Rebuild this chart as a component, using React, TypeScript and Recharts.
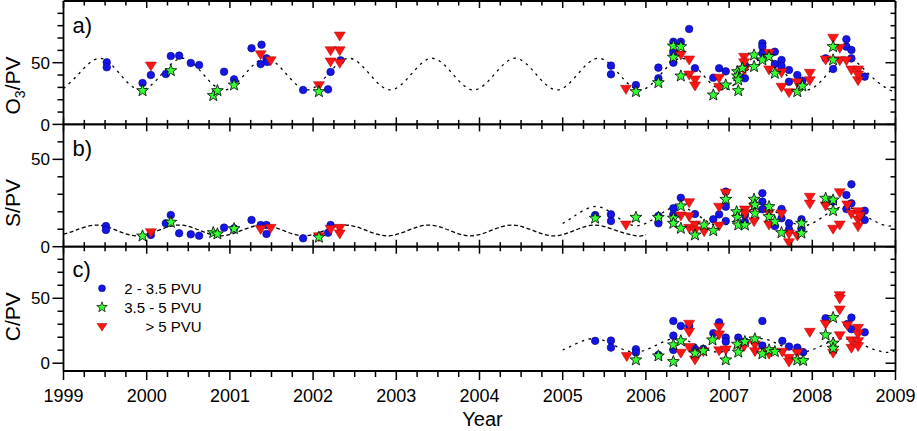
import React from 'react';
import { ComposedChart, Line, Scatter, XAxis, YAxis } from 'recharts';

// page geometry
const W = 917;
const H = 431;
const LEFT = 63.5;
const RIGHT = 895.5;
const AX = 1; // thickness reserved for each axis box

const years = [1999, 2000, 2001, 2002, 2003, 2004, 2005, 2006, 2007, 2008, 2009];
const quarterTicks = years.slice(0, -1).flatMap((y) => [y, y + 0.25, y + 0.5, y + 0.75]).concat([2009]);

// panel a) O3/PV
const o3Circles: [number, number][] = [
  [1999.52, 50.3], [1999.52, 46.3], [1999.95, 33.5], [2000.05, 40], [2000.23, 40.8], [2000.29, 55.4], [2000.39, 55.7],
  [2000.53, 49.8], [2000.63, 48.1], [2000.93, 42.7], [2001.05, 36.5], [2001.26, 61.7], [2001.38, 64.6], [2001.37, 48.9],
  [2001.44, 53.5], [2001.45, 50.6], [2001.88, 27.9], [2002.18, 28.4], [2002.21, 42.5], [2002.33, 51.9],
  [2005.58, 47.6], [2005.58, 40.6], [2005.88, 31.9], [2006.15, 46], [2006.15, 37.4], [2006.33, 67], [2006.33, 58.1],
  [2006.33, 50], [2006.42, 67], [2006.52, 77.3], [2006.59, 45.5], [2006.81, 37.8], [2006.96, 43], [2006.88, 45.5],
  [2007.19, 37.4], [2007.19, 48.1], [2007.4, 65.7], [2007.4, 63], [2007.4, 57.6], [2007.55, 58.9], [2007.55, 48.9],
  [2007.63, 52.2], [2007.63, 47.3], [2007.72, 44.1], [2007.72, 34.6], [2007.82, 40], [2007.88, 35.4], [2008.16, 53.5],
  [2008.25, 44.9], [2008.41, 69], [2008.41, 63], [2008.47, 60.3], [2008.47, 53.5], [2008.63, 38.7],
];
const o3Stars: [number, number][] = [
  [1999.95, 27.3], [2000.29, 43.5], [2000.8, 23.3], [2000.85, 27.3], [2001.05, 31.9], [2002.07, 26.5],
  [2005.88, 26.5], [2006.15, 33.8], [2006.33, 63.5], [2006.33, 54.4], [2006.42, 63], [2006.42, 39.2], [2006.81, 23.8],
  [2006.96, 31.9], [2007.1, 42.7], [2007.1, 39.2], [2007.11, 36], [2007.11, 27.3], [2007.16, 45.5], [2007.3, 46.8],
  [2007.3, 56.2], [2007.4, 52.2], [2007.48, 54.9], [2007.55, 41.4], [2007.82, 26.5], [2007.88, 31.1], [2008.25, 63],
  [2008.25, 52.2],
];
const o3Tris: [number, number][] = [
  [2000.05, 47.3], [2001.37, 56.5], [2001.49, 51.6], [2002.07, 31.4], [2002.21, 59.7], [2002.21, 50.6], [2002.32, 71.6],
  [2002.32, 59.7], [2002.32, 49.5], [2005.76, 28.4], [2006.42, 56.2], [2006.52, 52.2], [2006.52, 40], [2006.59, 36],
  [2006.59, 31.1], [2006.88, 37.4], [2006.88, 30.1], [2007.18, 54.4], [2007.18, 50], [2007.18, 44.1], [2007.48, 57.6],
  [2007.48, 44.1], [2007.63, 41.9], [2007.63, 30.1], [2007.72, 25.7], [2007.82, 33.8], [2007.97, 41.4], [2007.97, 35.4],
  [2008.16, 52.2], [2008.25, 69.8], [2008.33, 61.7], [2008.33, 51.6], [2008.41, 51.6], [2008.47, 44.1], [2008.55, 44.1],
  [2008.55, 35.4], [2008.55, 40],
];
const o3Fit: [number, number][] = [
  [1999, 29.1], [1999.18, 40.7], [1999.43, 53.6], [1999.68, 40.7], [1999.93, 27.9],
  [2000.18, 40.7], [2000.43, 53.6], [2000.68, 40.7], [2000.93, 27.9],
  [2001.18, 40.7], [2001.43, 53.6], [2001.68, 40.7], [2001.93, 27.9],
  [2002.18, 40.7], [2002.43, 53.6], [2002.68, 40.7], [2002.93, 27.9],
  [2003.18, 40.7], [2003.43, 53.6], [2003.68, 40.7], [2003.93, 27.9],
  [2004.18, 40.7], [2004.43, 53.6], [2004.68, 40.7], [2004.93, 27.9],
  [2005.18, 40.7], [2005.43, 53.6], [2005.68, 40.7], [2005.93, 27.9],
  [2006.18, 40.7], [2006.43, 53.6], [2006.68, 40.7], [2006.93, 27.9],
  [2007.18, 40.7], [2007.43, 53.6], [2007.68, 40.7], [2007.93, 27.9],
  [2008.18, 40.7], [2008.43, 53.6], [2008.68, 40.7], [2008.93, 27.9],
  [2009, 29.1],
];

// panel b) S/PV
const sCircles: [number, number][] = [
  [1999.51, 11.8], [1999.51, 9.6], [2000.05, 6.7], [2000.23, 13.4], [2000.29, 18.1], [2000.39, 7.7], [2000.53, 7.1],
  [2000.63, 6.3], [2000.93, 10.9], [2001.05, 10.5], [2001.26, 15.3], [2001.37, 12.4], [2001.44, 12.4], [2001.44, 7.3],
  [2001.88, 4.8], [2002.18, 8], [2002.21, 12.4],
  [2005.39, 18.1], [2005.58, 18.5], [2005.58, 14.7], [2006.15, 17.6], [2006.15, 13.4], [2006.33, 22], [2006.33, 18.5],
  [2006.42, 28], [2006.59, 18.7], [2006.81, 15.7], [2006.88, 18.5], [2006.96, 31.5], [2006.96, 22.9], [2006.96, 14.7],
  [2007.19, 18.1], [2007.19, 14.3], [2007.4, 30.6], [2007.4, 25.8], [2007.4, 21.4], [2007.55, 11.8], [2007.63, 21.6],
  [2007.63, 16.3], [2007.72, 13.4], [2007.72, 10], [2007.87, 15.7], [2007.87, 10], [2008.25, 25.8], [2008.41, 29.6],
  [2008.41, 21.6], [2008.47, 35.7], [2008.47, 24.8], [2008.63, 20.6], [2008.63, 15.3],
];
const sStars: [number, number][] = [
  [1999.95, 6.1], [2000.29, 14], [2000.8, 8], [2000.85, 7.3], [2001.05, 10.3], [2002.07, 5.4],
  [2005.39, 16.3], [2005.88, 16.8], [2006.15, 16.8], [2006.33, 16.3], [2006.33, 13.4], [2006.42, 23.3], [2006.42, 10.5],
  [2006.59, 6.7], [2006.7, 12.4], [2006.81, 9.2], [2006.96, 27.1], [2007.09, 20], [2007.1, 16.8], [2007.11, 12.4],
  [2007.19, 12.4], [2007.3, 27.1], [2007.31, 23.9], [2007.31, 19.1], [2007.48, 22.9], [2007.48, 17.2], [2007.55, 14.3],
  [2007.63, 8], [2007.87, 13.4], [2007.87, 7.7], [2008.16, 27.7], [2008.25, 26.7], [2008.25, 20.6],
];
const sTris: [number, number][] = [
  [2000.05, 8], [2001.37, 9.9], [2001.49, 10.5], [2002.07, 5.7], [2002.21, 9.9], [2002.32, 10.5], [2002.32, 7.3],
  [2005.76, 12.4], [2006.42, 17.6], [2006.52, 25.2], [2006.52, 17.2], [2006.52, 10.5], [2006.59, 12.4], [2006.59, 9.2],
  [2006.7, 8.6], [2006.88, 22.6], [2006.88, 11.8], [2006.96, 30.6], [2007.19, 21], [2007.19, 18.7], [2007.3, 22.6],
  [2007.3, 14.3], [2007.48, 12.4], [2007.48, 19.1], [2007.63, 18.7], [2007.72, 7.3], [2007.72, 2.3], [2007.82, 6.1],
  [2007.97, 28.3], [2007.97, 24.4], [2008.16, 23.3], [2008.25, 10], [2008.33, 30.9], [2008.33, 12.4], [2008.42, 23.9],
  [2008.47, 18.7], [2008.55, 20], [2008.55, 15.3], [2008.55, 11.4], [2008.57, 17.6],
];
const sFitEarly: [number, number][] = [
  [1999, 7.2], [1999.14, 9.3], [1999.39, 12.4], [1999.64, 9.3], [1999.89, 6.2],
  [2000.14, 9.3], [2000.39, 12.4], [2000.64, 9.3], [2000.89, 6.2],
  [2001.14, 9.3], [2001.39, 12.4], [2001.64, 9.3], [2001.89, 6.2],
  [2002.14, 9.3], [2002.39, 12.4], [2002.64, 9.3], [2002.89, 6.2],
  [2003.14, 9.3], [2003.39, 12.4], [2003.64, 9.3], [2003.89, 6.2],
  [2004.14, 9.3], [2004.39, 12.4], [2004.64, 9.3], [2004.89, 6.2],
  [2005.14, 9.3], [2005.39, 12.4], [2005.64, 9.3], [2005.89, 6.2],
  [2006, 6.9],
];
const sFitLate: [number, number][] = [
  [2005, 13.3], [2005.14, 17.5], [2005.39, 23], [2005.64, 17.5], [2005.89, 12],
  [2006.14, 17.5], [2006.39, 23], [2006.64, 17.5], [2006.89, 12],
  [2007.14, 17.5], [2007.39, 23], [2007.64, 17.5], [2007.89, 12],
  [2008.14, 17.5], [2008.39, 23], [2008.64, 17.5], [2008.89, 12],
  [2009, 13.3],
];

// panel c) C/PV
const cCircles: [number, number][] = [
  [2005.39, 17.2], [2005.58, 17.4], [2005.58, 12], [2005.88, 10.8], [2005.88, 8.2], [2006.15, 6.4], [2006.33, 32.5],
  [2006.33, 21.2], [2006.33, 10.2], [2006.42, 28.7], [2006.52, 28.7], [2006.59, 11], [2006.69, 11], [2006.81, 23.1],
  [2006.88, 31.5], [2006.96, 19.7], [2006.96, 16.6], [2007.11, 19.7], [2007.19, 16.6], [2007.4, 32.5], [2007.4, 13.5],
  [2007.64, 17.2], [2007.72, 12.8], [2007.82, 12], [2007.89, 8.5], [2008.16, 34.6], [2008.42, 30.2], [2008.47, 35.1],
  [2008.47, 26.2], [2008.63, 23.8],
];
const cStars: [number, number][] = [
  [2005.88, 2.5], [2006.15, 5.6], [2006.33, 14.1], [2006.33, 1.2], [2006.42, 17.2], [2006.59, 7.7], [2006.69, 9.5],
  [2006.8, 17.9], [2006.96, 2.5], [2007.1, 14.6], [2007.11, 8.5], [2007.19, 16.6], [2007.31, 18.7], [2007.4, 7.2],
  [2007.48, 10.2], [2007.55, 8.9], [2007.82, 2.5], [2007.89, 2], [2008.16, 21.8], [2008.25, 35.1], [2008.25, 15.4],
  [2008.25, 11.5],
];
const cTris: [number, number][] = [
  [2005.77, 5.1], [2006.42, 7.7], [2006.52, 30], [2006.52, 23.8], [2006.52, 12], [2006.59, 2.5], [2006.59, 6.9],
  [2006.69, 8.9], [2006.88, 27.4], [2006.88, 21.8], [2006.88, 9.5], [2006.96, 10.2], [2007.18, 12.8], [2007.31, 14.1],
  [2007.31, 8.9], [2007.48, 8.9], [2007.48, 6.9], [2007.64, 8.5], [2007.72, 3.8], [2007.72, 0.8], [2007.82, 7.7],
  [2007.97, 23.8], [2008.16, 30], [2008.25, 7.7], [2008.33, 52], [2008.33, 49.5], [2008.33, 41], [2008.33, 21.2],
  [2008.42, 28.9], [2008.47, 17.2], [2008.47, 11.5], [2008.55, 26.9], [2008.55, 22.3], [2008.55, 16.6], [2008.55, 12.8],
];
const cFit: [number, number][] = [
  [2005, 10.2], [2005.12, 13.75], [2005.37, 19], [2005.62, 13.75], [2005.87, 8.5],
  [2006.12, 13.75], [2006.37, 19], [2006.62, 13.75], [2006.87, 8.5],
  [2007.12, 13.75], [2007.37, 19], [2007.62, 13.75], [2007.87, 8.5],
  [2008.12, 13.75], [2008.37, 19], [2008.62, 13.75], [2008.87, 8.5],
  [2009, 10.2],
];

const legendItems = ['2 - 3.5 PVU', '3.5 - 5 PVU', '> 5 PVU'];

const FONT = '"Liberation Sans", Arial, sans-serif';
const toPts = (arr: [number, number][]) => arr.map(([x, y]) => ({ x, y }));

const starPoints = (cx: number, cy: number, R: number, r: number) => {
  const pts: string[] = [];
  for (let i = 0; i < 10; i++) {
    const a = -Math.PI / 2 + (i * Math.PI) / 5;
    const rad = i % 2 ? r : R;
    pts.push(`${cx + rad * Math.cos(a)},${cy + rad * Math.sin(a)}`);
  }
  return pts.join(' ');
};

const CircleMark = (p: any) => <circle cx={p.cx} cy={p.cy} r={3.8} fill="#1515ea" stroke="#00007a" strokeWidth={0.6} />;
const StarMark = (p: any) => <polygon points={starPoints(p.cx, p.cy, 6.2, 2.6)} fill="#33ff33" stroke="#000" strokeWidth={0.8} />;
const TriMark = (p: any) => (
  <polygon points={`${p.cx - 5.5},${p.cy - 4} ${p.cx + 5.5},${p.cy - 4} ${p.cx},${p.cy + 5}`} fill="#ff1414" stroke="#a00000" strokeWidth={0.5} />
);

const isMajorX = (v: number) => Math.abs(v - Math.round(v)) < 1e-6;

// x ticks: dir = +1 down, -1 up
const xTick = (dir: number, majorLen: number, minorLen: number, withLabel: boolean) => (p: any) => {
  const v = p.payload.value;
  const major = isMajorX(v);
  const len = major ? majorLen : minorLen;
  return (
    <g>
      <line x1={p.x} x2={p.x} y1={p.y} y2={p.y + dir * len} stroke="#000" strokeWidth={1.5} />
      {withLabel && major && (
        <text x={p.x} y={p.y + 30.5} textAnchor="middle" fontSize={18} fontFamily={FONT} fill="#000">
          {v}
        </text>
      )}
    </g>
  );
};

const yTick = (dir: number, majorLen: number, minorLen: number, withLabel: boolean) => (p: any) => {
  const v = p.payload.value;
  const major = v % 50 === 0;
  const len = major ? majorLen : minorLen;
  return (
    <g>
      <line x1={p.x} x2={p.x + dir * len} y1={p.y} y2={p.y} stroke="#000" strokeWidth={1.5} />
      {withLabel && major && (
        <text x={p.x - 13.5} y={p.y} dy="0.36em" textAnchor="end" fontSize={17} fontFamily={FONT} fill="#000">
          {v}
        </text>
      )}
    </g>
  );
};

type Fit = { data: [number, number][]; dash: string };

type PanelProps = {
  top: number;
  bottom: number;
  domain: [number, number];
  yTicks: number[];
  circles: [number, number][];
  stars: [number, number][];
  tris: [number, number][];
  fits: Fit[];
  title: (p: any) => React.ReactElement;
  isLast?: boolean;
};

const axisLine = { stroke: '#000', strokeWidth: 1.8 };

const Panel = ({ top, bottom, domain, yTicks, circles, stars, tris, fits, title, isLast }: PanelProps) => (
  <div style={{ position: 'absolute', left: 0, top: 0 }}>
    <ComposedChart
      width={W}
      height={H}
      margin={{ top: top - AX, bottom: H - bottom - AX, left: LEFT - AX, right: W - RIGHT - AX }}
    >
      <XAxis
        xAxisId="b"
        dataKey="x"
        type="number"
        domain={[1999, 2009]}
        allowDataOverflow
        ticks={quarterTicks}
        interval={0}
        height={AX}
        tickSize={0}
        tickMargin={0}
        tickLine={false}
        axisLine={axisLine}
        tick={isLast ? xTick(1, 9, 6, true) : xTick(-1, 7, 4.5, false)}
        label={isLast ? () => (
          <text x={482.5} y={425.5} textAnchor="middle" fontSize={20} fontFamily={FONT} fill="#000">Year</text>
        ) : undefined}
      />
      <XAxis
        xAxisId="t"
        orientation="top"
        dataKey="x"
        type="number"
        domain={[1999, 2009]}
        allowDataOverflow
        ticks={quarterTicks}
        interval={0}
        height={AX}
        tickSize={0}
        tickMargin={0}
        tickLine={false}
        axisLine={axisLine}
        tick={xTick(1, 7, 4.5, false)}
      />
      <YAxis
        yAxisId="l"
        dataKey="y"
        type="number"
        domain={domain}
        allowDataOverflow
        ticks={yTicks}
        interval={0}
        width={AX}
        tickSize={0}
        tickMargin={0}
        tickLine={false}
        axisLine={axisLine}
        tick={yTick(-1, 11, 6, true)}
        label={title}
      />
      <YAxis
        yAxisId="r"
        orientation="right"
        dataKey="y"
        type="number"
        domain={domain}
        allowDataOverflow
        ticks={yTicks}
        interval={0}
        width={AX}
        tickSize={0}
        tickMargin={0}
        tickLine={false}
        axisLine={axisLine}
        tick={yTick(-1, 10, 5, false)}
      />
      {fits.map((f, i) => (
        <Line
          key={i}
          xAxisId="b"
          yAxisId="l"
          data={toPts(f.data)}
          dataKey="y"
          type="natural"
          stroke="#000"
          strokeWidth={1.3}
          strokeDasharray={f.dash}
          dot={false}
          activeDot={false}
          isAnimationActive={false}
        />
      ))}
      <Scatter xAxisId="b" yAxisId="l" data={toPts(circles)} dataKey="y" shape={CircleMark} isAnimationActive={false} />
      <Scatter xAxisId="b" yAxisId="l" data={toPts(tris)} dataKey="y" shape={TriMark} isAnimationActive={false} />
      <Scatter xAxisId="b" yAxisId="l" data={toPts(stars)} dataKey="y" shape={StarMark} isAnimationActive={false} />
    </ComposedChart>
  </div>
);

const vTitle = (cy: number, main: string, sub?: string, rest?: string) => () => (
  <text transform="rotate(-90)" x={-cy} y={19.5} textAnchor="middle" fontSize={21} fontFamily={FONT} fill="#000">
    {main}
    {sub && (
      <tspan fontSize={14} dy={5}>
        {sub}
      </tspan>
    )}
    {rest && <tspan dy={sub ? -5 : 0}>{rest}</tspan>}
  </text>
);

const App = () => (
  <div style={{ position: 'absolute', left: 0, top: 0, width: W, height: H, background: '#fff', fontFamily: FONT }}>
    <Panel
      top={1}
      bottom={124.4}
      domain={[0, 100]}
      yTicks={[0, 10, 20, 30, 40, 50, 60, 70, 80, 90]}
      circles={o3Circles}
      stars={o3Stars}
      tris={o3Tris}
      fits={[{ data: o3Fit, dash: '2.5 4.5' }]}
      title={vTitle(85.5, 'O', '3', '/PV')}
    />
    <Panel
      top={124.4}
      bottom={246.7}
      domain={[0, 70]}
      yTicks={[0, 10, 20, 30, 40, 50, 60]}
      circles={sCircles}
      stars={sStars}
      tris={sTris}
      fits={[
        { data: sFitEarly, dash: '4 2.5' },
        { data: sFitLate, dash: '2.5 4.5' },
      ]}
      title={vTitle(203, 'S/PV')}
    />
    <Panel
      top={246.7}
      bottom={371}
      domain={[-6, 89.7]}
      yTicks={[0, 10, 20, 30, 40, 50, 60, 70, 80]}
      circles={cCircles}
      stars={cStars}
      tris={cTris}
      fits={[{ data: cFit, dash: '2.5 4.5' }]}
      title={vTitle(316.7, 'C/PV')}
      isLast
    />
    <svg width={W} height={H} style={{ position: 'absolute', left: 0, top: 0, pointerEvents: 'none' }} fontFamily={FONT}>
      <text x={72.5} y={33} fontSize={22} fill="#000">a)</text>
      <text x={72.5} y={156} fontSize={22} fill="#000">b)</text>
      <text x={72.5} y={276.5} fontSize={22} fill="#000">c)</text>
      <circle cx={102} cy={288.3} r={3.5} fill="#1515ea" stroke="#00007a" strokeWidth={0.5} />
      <polygon points={starPoints(102, 307.3, 5.5, 2.3)} fill="#33ff33" stroke="#000" strokeWidth={0.7} />
      <polygon points="97,323.5 107,323.5 102,331" fill="#ff1414" stroke="#a00000" strokeWidth={0.5} />
      {legendItems.map((t, i) => (
        <text key={t} x={201.7} y={[288.3, 307.3, 326.7][i] + 5.5} textAnchor="end" fontSize={15} fill="#000">
          {t}
        </text>
      ))}
    </svg>
  </div>
);

export default App;
